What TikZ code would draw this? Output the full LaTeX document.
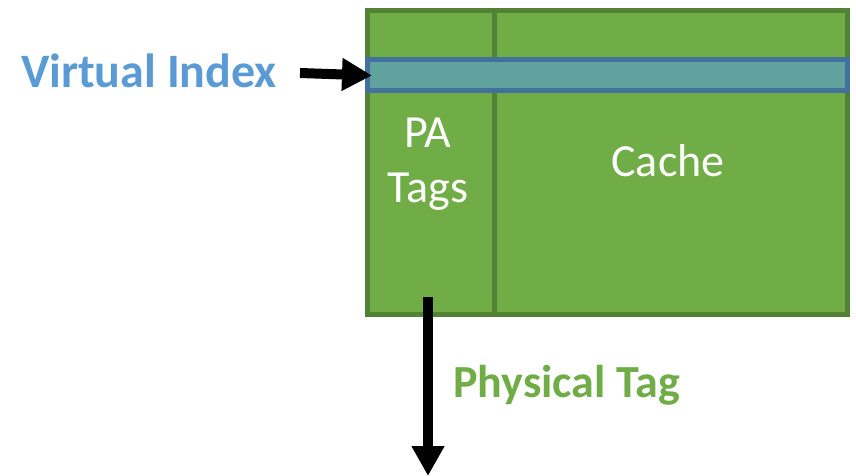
\documentclass[tikz,border=0pt]{standalone}
\usepackage{fontspec}
\setmainfont{Carlito}
\usetikzlibrary{arrows.meta}
\definecolor{cellfill}{HTML}{70AD47}
\definecolor{celledge}{HTML}{548235}
\definecolor{rowfill}{HTML}{60A29E}
\definecolor{rowedge}{HTML}{41719C}
\definecolor{vblue}{HTML}{5B9BD5}
\definecolor{pgreen}{HTML}{70AD47}
\tikzset{
  col/.style={draw=celledge, fill=cellfill, line width=5pt, inner sep=0pt, minimum height=303pt, anchor=north west},
  row/.style={draw=rowedge, fill=rowfill, line width=5pt, inner sep=0pt, minimum width=480pt, minimum height=31pt, anchor=north west},
  bigarrow/.style={draw=black, line width=10pt, -{Triangle[length=30pt,width=31pt]}},
  celltext/.style={text=white, font=\fontsize{46}{55}\selectfont, inner sep=0pt, anchor=base},
  lab/.style={font=\bfseries\fontsize{46}{55}\selectfont, inner sep=0pt},
}
\begin{document}
\begin{tikzpicture}[x=1pt,y=-1pt]
  \useasboundingbox (0,0) rectangle (856,476);

  % the cache array
  \node[col, minimum width=127pt] (tags) at (364.5,8.5) {};
  \node[col, minimum width=353pt] (data) at (491.5,8.5) {};
  \node[row] (band) at (364.5,57.5) {};

  \node[celltext] (pa) at (428,147) {PA};
  \node[celltext] (tg) at (428,202) {Tags};
  \node[celltext] (cache) at (668,176) {Cache};

  % index in, tag out
  \node[lab, font=\bfseries\fontsize{48}{55}\selectfont, text=vblue, anchor=base east] (vindex) at (277,88) {Virtual Index};
  \coordinate (vstart) at (300,73);
  \draw[bigarrow] (vstart) -- ([xshift=7.5pt]band.west);

  \node[lab, text=pgreen, anchor=base west] (ptag) at (453,397) {Physical Tag};
  \coordinate (tstart) at (428,297);
  \coordinate (tend) at (428,476);
  \draw[bigarrow] (tstart) -- (tend);
\end{tikzpicture}
\end{document}
